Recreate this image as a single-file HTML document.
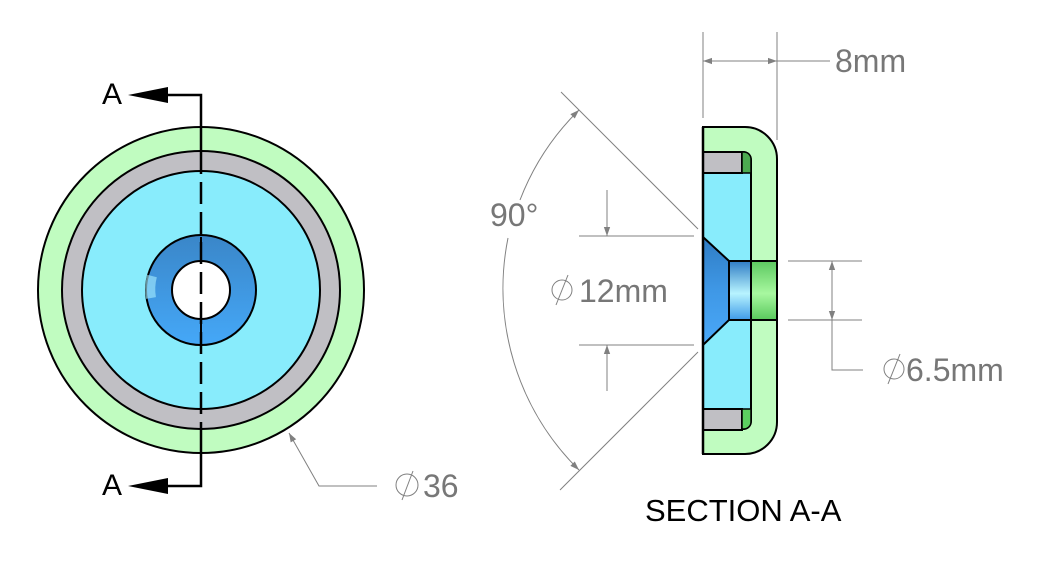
<!DOCTYPE html>
<html><head><meta charset="utf-8"><style>
html,body{margin:0;padding:0;background:#fff;}
svg{display:block;}
text{font-family:"Liberation Sans",sans-serif;}
</style></head><body>
<svg width="1037" height="561" viewBox="0 0 1037 561" xmlns="http://www.w3.org/2000/svg">
<defs>
<linearGradient id="cs" x1="0" y1="0" x2="0" y2="1">
<stop offset="0" stop-color="#2f7cc4"/><stop offset="0.5" stop-color="#3f98e6"/><stop offset="1" stop-color="#4aa8f8"/></linearGradient>
<linearGradient id="cy" x1="0" y1="0" x2="0" y2="1">
<stop offset="0" stop-color="#2f7cc4"/><stop offset="0.55" stop-color="#b8f4ff"/><stop offset="1" stop-color="#3f9ae8"/></linearGradient>
<linearGradient id="gy" x1="0" y1="0" x2="0" y2="1">
<stop offset="0" stop-color="#5cc860"/><stop offset="0.55" stop-color="#a8f8a0"/><stop offset="1" stop-color="#58c85c"/></linearGradient>
<linearGradient id="ring" x1="0" y1="0" x2="0" y2="1">
<stop offset="0" stop-color="#3a86c8"/><stop offset="1" stop-color="#45a8f8"/></linearGradient>
<marker id="ar" viewBox="0 0 10 10" refX="10" refY="5" markerWidth="20" markerHeight="9" markerUnits="userSpaceOnUse" orient="auto"><path d="M0,1.5 L10,5 L0,8.5 z" fill="#808080"/></marker>
</defs>

<!-- Front view -->
<g stroke="#000" stroke-width="2">
<circle cx="201" cy="290" r="163" fill="#c0fcc0"/>
<circle cx="201" cy="290" r="139" fill="#c0bfc4"/>
<circle cx="201" cy="290" r="119" fill="#88ecfc"/>
<circle cx="201" cy="290" r="55" fill="url(#ring)"/>
<circle cx="201" cy="290" r="29" fill="#fff"/>
</g>
<path d="M151,298 a51,51 0 0 1 1,-22" stroke="#a8eeff" stroke-width="10" fill="none" opacity="0.6"/>
<!-- section line -->
<g stroke="#000" stroke-width="2.5" fill="none">
<path d="M141,95 H201 V152"/>
<path d="M141,486 H201 V428"/>
<path d="M201,152 V428" stroke-dasharray="22,8"/>
</g>
<line x1="201" y1="237" x2="201" y2="262" stroke="#000" stroke-width="2"/>
<line x1="201" y1="320" x2="201" y2="345" stroke="#000" stroke-width="2"/>
<path d="M128,95 L168,87 L168,103 z" fill="#000"/>
<path d="M128,486 L168,478 L168,494 z" fill="#000"/>
<text x="102" y="104" font-size="30" fill="#000">A</text>
<text x="102" y="495" font-size="30" fill="#000">A</text>
<!-- Ø36 leader -->
<path d="M377,486 H319 L289,433" stroke="#808080" stroke-width="1" fill="none" marker-end="url(#ar)"/>
<circle cx="407" cy="485" r="11" stroke="#808080" stroke-width="1" fill="none"/>
<line x1="402" y1="500" x2="413" y2="471" stroke="#808080" stroke-width="1"/>
<text x="423" y="497" font-size="32" fill="#777">36</text>

<!-- Section view -->
<path d="M703,127 H745 A32,32 0 0 1 777,159 V422 A32,32 0 0 1 745,454 H703 Z" fill="#c0fcc0" stroke="#000" stroke-width="2"/>
<path d="M703,152 H743 A8,8 0 0 1 751,160 V421 A8,8 0 0 1 743,429 H703 Z" fill="#88ecfc" stroke="#000" stroke-width="2"/>
<rect x="703" y="152" width="39" height="21" fill="#c0bfc4" stroke="#000" stroke-width="2"/>
<rect x="703" y="409" width="39" height="21" fill="#c0bfc4" stroke="#000" stroke-width="2"/>
<path d="M742,152 H744 A7,7 0 0 1 751,159 V173 H742 Z" fill="#4caa50" stroke="#000" stroke-width="1.5"/>
<path d="M742,409 H751 V422 A7,7 0 0 1 744,429 H742 Z" fill="#5cd060" stroke="#000" stroke-width="1.5"/>
<path d="M703,237 L729,261 V320 L703,345 Z" fill="url(#cs)" stroke="#000" stroke-width="2"/>
<rect x="729" y="261" width="22" height="59" fill="url(#cy)" stroke="#000" stroke-width="2"/>
<rect x="751" y="261" width="26" height="59" fill="url(#gy)" stroke="#000" stroke-width="2"/>
<line x1="703" y1="127" x2="703" y2="454" stroke="#000" stroke-width="2.5"/>

<g stroke="#808080" stroke-width="1" fill="none">
<!-- 8mm -->
<line x1="703" y1="32" x2="703" y2="118"/>
<line x1="777" y1="32" x2="777" y2="140"/>
<line x1="703" y1="61" x2="830" y2="61"/>
<line x1="740" y1="61" x2="703" y2="61" marker-end="url(#ar)"/>
<line x1="740" y1="61" x2="777" y2="61" marker-end="url(#ar)"/>
<!-- 90 deg -->
<line x1="561" y1="92" x2="698" y2="229"/>
<line x1="698" y1="352" x2="560" y2="490"/>
<path d="M520,200 A255,255 0 0 1 579,110" marker-end="url(#ar)"/>
<path d="M508,238 A255,255 0 0 0 579,470" marker-end="url(#ar)"/>
<!-- Ø12 -->
<line x1="579" y1="236" x2="694" y2="236"/>
<line x1="579" y1="345" x2="694" y2="345"/>
<line x1="607" y1="190" x2="607" y2="236" marker-end="url(#ar)"/>
<line x1="607" y1="391" x2="607" y2="345" marker-end="url(#ar)"/>
<circle cx="562" cy="290" r="10"/>
<line x1="556" y1="305" x2="568" y2="275"/>
<!-- Ø6.5 -->
<line x1="788" y1="261" x2="862" y2="261"/>
<line x1="788" y1="320" x2="862" y2="320"/>
<line x1="832" y1="290" x2="832" y2="261" marker-end="url(#ar)"/>
<line x1="832" y1="290" x2="832" y2="320" marker-end="url(#ar)"/>
<path d="M832,320 V370 H863"/>
<circle cx="894" cy="369" r="10"/>
<line x1="888" y1="384" x2="900" y2="354"/>
</g>
<text x="835" y="72" font-size="32" fill="#777">8mm</text>
<text x="490" y="226" font-size="32" fill="#777">90°</text>
<text x="579" y="302" font-size="32" fill="#777">12mm</text>
<text x="906" y="381" font-size="32" fill="#777">6.5mm</text>
<text x="645" y="521" font-size="31" fill="#000">SECTION A-A</text>
</svg>
</body></html>
